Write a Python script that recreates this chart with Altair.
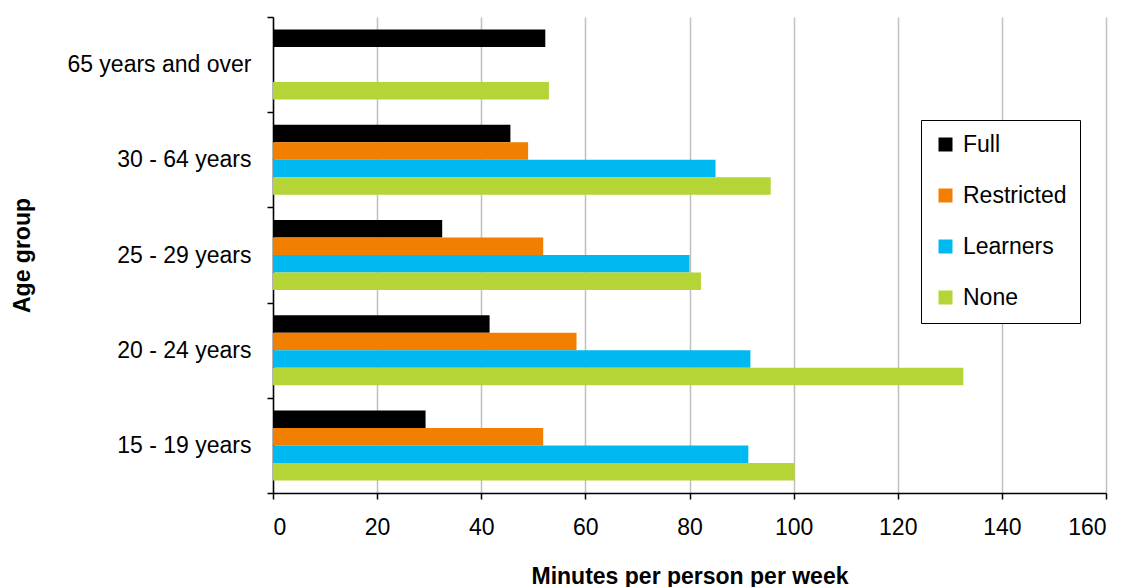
import altair as alt
import pandas as pd

ages = ["65 years and over", "30 - 64 years", "25 - 29 years", "20 - 24 years", "15 - 19 years"]
series = ["Full", "Restricted", "Learners", "None"]
colors = ["#000000", "#F37F00", "#00B9F1", "#B5D435"]

full = [52.3, 45.6, 32.5, 41.6, 29.3]
restricted = [None, 49.0, 51.9, 58.3, 51.9]
learners = [None, 85.0, 80.0, 91.7, 91.3]
none_ = [53.0, 95.6, 82.2, 132.6, 100.2]

rows = []
for name, vals in zip(series, [full, restricted, learners, none_]):
    for a, v in zip(ages, vals):
        if v is not None:
            rows.append({"age": a, "licence": name, "minutes": v})
df = pd.DataFrame(rows)

FONT = "Liberation Sans"
FS = 23

chart = alt.Chart(df).mark_bar().encode(
    x=alt.X(
        "minutes:Q",
        scale=alt.Scale(domain=[0, 160], nice=False, zero=True),
        axis=alt.Axis(
            values=[0, 20, 40, 60, 80, 100, 120, 140, 160],
            title="Minutes per person per week",
            grid=True, gridColor="#c0c0c0", gridWidth=1.5,
            domainColor="#000000", domainWidth=1.5,
            tickColor="#000000", tickSize=6, tickWidth=1.5,
            labelFont=FONT, labelFontSize=FS, labelColor="#000000", labelPadding=17,
            titleFont=FONT, titleFontSize=FS, titleFontWeight="bold", titleColor="#000000",
            titlePadding=26,
        ),
    ),
    y=alt.Y(
        "age:N",
        sort=ages,
        scale=alt.Scale(paddingInner=0, paddingOuter=0),
        axis=alt.Axis(
            title="Age group",
            tickBand="extent",
            grid=False,
            domainColor="#000000", domainWidth=1.5,
            tickColor="#000000", tickSize=6, tickWidth=1.5,
            labelFont=FONT, labelFontSize=FS, labelColor="#000000", labelPadding=16,
            labelLimit=0,
            titleFont=FONT, titleFontSize=FS, titleFontWeight="bold", titleColor="#000000",
            titleX=-251, titleY=238, titleAngle=270,
            titleAlign="center", titleBaseline="middle",
        ),
    ),
    yOffset=alt.YOffset(
        "licence:N", sort=series,
        scale=alt.Scale(domain=series, paddingInner=0, paddingOuter=0.72),
    ),
    color=alt.Color(
        "licence:N",
        sort=series,
        scale=alt.Scale(domain=series, range=colors),
        legend=alt.Legend(
            title=None, orient="none", legendX=648, legendY=103,
            labelFont=FONT, labelFontSize=FS, labelColor="#000000", labelLimit=0,
            labelOffset=6,
            symbolType="square", symbolSize=196, symbolStrokeWidth=0,
            rowPadding=27, padding=13, strokeColor="#000000", fillColor="#ffffff",
        ),
    ),
).properties(
    width=833, height=476,
    padding={"left": 3, "top": -2, "right": 5, "bottom": 0},
).configure_view(stroke=None)

chart.save("out.html", embed_options={"renderer": "svg", "actions": False})
